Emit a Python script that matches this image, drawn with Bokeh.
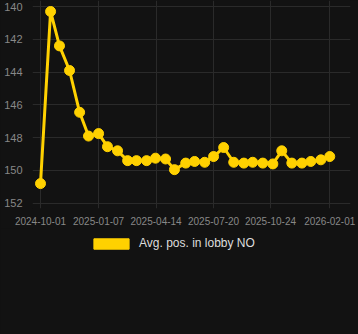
from datetime import datetime
from bokeh.plotting import figure
from bokeh.layouts import column
from bokeh.models import Range1d, FixedTicker, DatetimeTickFormatter, Legend, LegendItem, ColumnDataSource
from bokeh.embed import file_html
from bokeh.resources import INLINE

dates = ["2024-10-01", "2024-10-18", "2024-11-02", "2024-11-19", "2024-12-06", "2024-12-21",
         "2025-01-07", "2025-01-22", "2025-02-08", "2025-02-25", "2025-03-12", "2025-03-29",
         "2025-04-13", "2025-04-30", "2025-05-15", "2025-06-03", "2025-06-18", "2025-07-05",
         "2025-07-20", "2025-08-06", "2025-08-23", "2025-09-09", "2025-09-24", "2025-10-11",
         "2025-10-28", "2025-11-12", "2025-11-29", "2025-12-16", "2025-12-31", "2026-01-17",
         "2026-02-01"]
positions = [150.8, 140.3, 142.4, 143.9, 146.45, 147.9,
             147.75, 148.55, 148.8, 149.4, 149.4, 149.4,
             149.25, 149.3, 149.95, 149.55, 149.45, 149.5,
             149.15, 148.6, 149.5, 149.55, 149.5, 149.55,
             149.6, 148.8, 149.55, 149.55, 149.45, 149.35,
             149.15]
tick_dates = ["2024-10-01", "2025-01-07", "2025-04-14", "2025-07-20", "2025-10-24", "2026-02-01"]
y_ticks = [140, 142, 144, 146, 148, 150, 152]
series_name = "Avg. pos. in lobby NO"

def ms(s):
    return datetime.strptime(s, "%Y-%m-%d").timestamp() * 1000.0

DAY = 86400000.0
xs = [ms(d) for d in dates]
src = ColumnDataSource(dict(x=xs, y=positions))

BG = "#121212"
GOLD = "#FFD100"

p = figure(width=358, height=228, output_backend="svg", toolbar_location=None,
           x_range=Range1d(ms("2024-10-01") - 13.5 * DAY, ms("2024-10-01") + 523 * DAY),
           y_range=Range1d(152.32, 139.63),
           background_fill_color=BG, border_fill_color=BG,
           min_border_left=32, min_border_right=8, min_border_top=0, min_border_bottom=20)
p.outline_line_color = None

p.line("x", "y", source=src, line_color=GOLD, line_width=3)
p.scatter("x", "y", source=src, size=10, fill_color=GOLD, line_color=GOLD)

p.xaxis.ticker = FixedTicker(ticks=[ms(d) for d in tick_dates])
p.xaxis.formatter = DatetimeTickFormatter(days="%Y-%m-%d", months="%Y-%m-%d", years="%Y-%m-%d",
                                          hours="%Y-%m-%d", minutes="%Y-%m-%d", seconds="%Y-%m-%d",
                                          milliseconds="%Y-%m-%d", microseconds="%Y-%m-%d")
p.yaxis.ticker = FixedTicker(ticks=y_ticks)

for ax in (p.xaxis, p.yaxis):
    ax.axis_line_color = None
    ax.major_tick_line_color = None
    ax.minor_tick_line_color = None
    ax.major_label_text_color = "#888888"
    ax.major_label_text_font = "Liberation Sans"
    ax.major_label_text_font_size = "11px"
    ax.major_label_standoff = 4

p.xaxis.major_label_text_font_size = "10px"
p.xaxis.major_label_standoff = 2
p.grid.grid_line_color = "#2a2a2a"
p.grid.grid_line_width = 1

# legend-only figure below the chart
lg = figure(width=358, height=106, output_backend="svg", toolbar_location=None,
            x_range=Range1d(0, 1), y_range=Range1d(0, 1),
            background_fill_color=BG, border_fill_color=BG,
            min_border_left=0, min_border_right=0, min_border_top=0, min_border_bottom=0)
lg.outline_line_color = None
lg.axis.visible = False
lg.grid.visible = False
dummy = lg.quad(left=[5], right=[6], top=[5], bottom=[6], fill_color=GOLD, line_color=GOLD)

legend = Legend(items=[LegendItem(label=series_name, renderers=[dummy])],
                location=(57, 84), orientation="horizontal",
                background_fill_alpha=0, border_line_color=None,
                label_text_color="#dddddd", label_text_font="Liberation Sans",
                label_text_font_size="12px", glyph_width=44, glyph_height=13,
                margin=0, padding=4, label_standoff=6)
lg.add_layout(legend, "center")

layout = column(p, lg, spacing=0, background=BG)
open("out.html", "w").write(file_html(layout, INLINE))
